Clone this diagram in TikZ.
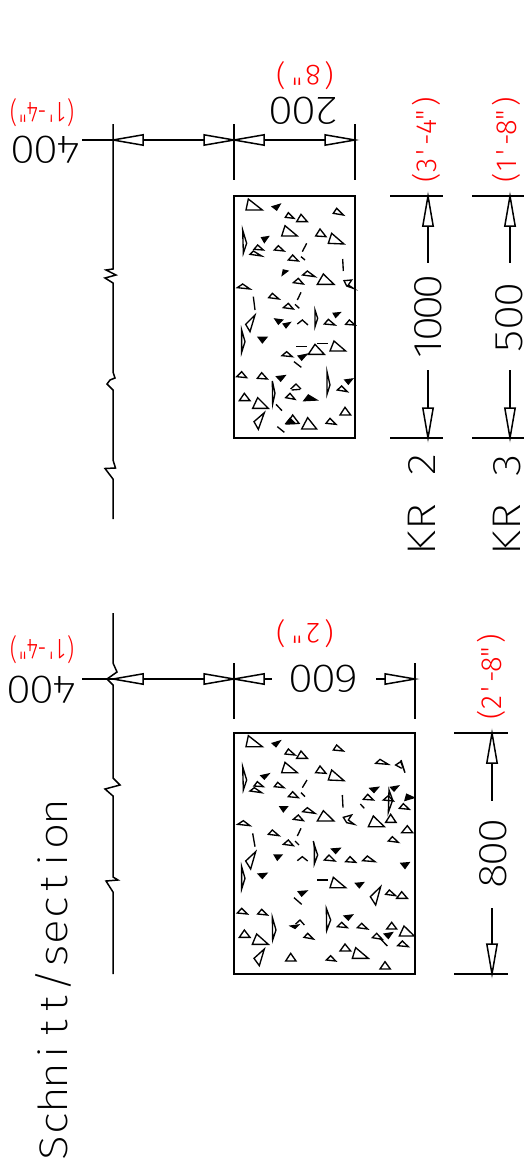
\documentclass[tikz,border=0pt]{standalone}
\usepackage{fontspec}
\setmainfont{Fira Sans}[UprightFont=* ExtraLight]
\newfontfamily\cadbig{Fira Sans ExtraLight}[FakeStretch=1.15]
\newfontfamily\cadred{Fira Sans Light}[FakeStretch=1.0]
\newfontfamily\cadredn{Fira Sans Light}[FakeStretch=0.75]
\newlength\cw
\makeatletter
\def\mono#1#2{\setlength\cw{#1pt}\monoi#2\relax}
\def\monoi#1{\ifx#1\relax\else\makebox[\cw][c]{#1}\expandafter\monoi\fi}
\makeatother
\newcommand\tr[3]{\draw[tri] #1 -- #2 -- #3 -- cycle;}
\newcommand\sol[3]{\draw[tri,fill=black] #1 -- #2 -- #3 -- cycle;}
\newcommand\li[2]{\draw[tri] #1 -- #2;}
\tikzset{
 ln/.style={line width=1.5pt,line join=miter},
 tri/.style={line width=1.35pt,line join=miter},
 big/.style={inner sep=0pt,text height=28pt,text depth=0pt,font=\cadbig\fontsize{40}{40}\selectfont},
 redt/.style={inner sep=0pt,text height=20pt,text depth=0pt,text=red,font=\cadred\fontsize{29}{29}\selectfont},
 redn/.style={inner sep=0pt,text height=20pt,text depth=0pt,text=red,font=\cadredn\fontsize{29}{29}\selectfont},
 openhead/.pic={\draw[ln,fill=white] (0,0) -- (-30,-5.2) -- (-30,5.2) -- cycle;}
}
\begin{document}
\begin{tikzpicture}[x=1pt,y=-1pt]
\useasboundingbox (0,0) rectangle (524,1167);
% ---- coordinates: top section
\coordinate (tA) at (113,140); \coordinate (tB) at (234,140); \coordinate (tC) at (355,140);
\coordinate (tL) at (82,140);
\coordinate (k1) at (428,196); \coordinate (k2) at (428,438);
\coordinate (m1) at (510,196); \coordinate (m2) at (510,438);
% ---- coordinates: bottom section
\coordinate (bA) at (113,679); \coordinate (bB) at (234,679); \coordinate (bC) at (415,679);
\coordinate (bL) at (82,679);
\coordinate (h1) at (492,733); \coordinate (h2) at (492,974);
% rectangles
\node[draw,ln,outer sep=0pt,minimum width=121pt,minimum height=242pt,inner sep=0pt,anchor=north west] (rectT) at (234,196) {};
\node[draw,ln,outer sep=0pt,minimum width=181pt,minimum height=241pt,inner sep=0pt,anchor=north west] (rectB) at (234,733) {};
% extension lines
\draw[ln] (113,124) -- (113,269) -- (106,270) -- (116,275) -- (105,278) -- (113,283)
  -- (113,372) -- (115,378) -- (110,380) -- (107,384) -- (113,390)
  -- (113,460) -- (115.5,468) -- (105,468.5) -- (113,479) -- (113,519);
\draw[ln] (234,124) -- (234,180);
\draw[ln] (355,124) -- (355,180);
\draw[ln] (113,613) -- (113,663) -- (117,672) -- (107,679) -- (113,685)
  -- (113,778) -- (120,785) -- (105,789) -- (113,796)
  -- (113,877) -- (118,880) -- (106,881) -- (113,892) -- (113,974);
\draw[ln] (234,663) -- (234,719);
\draw[ln] (415,663) -- (415,719);
\draw[ln] (390,196) -- (443,196); \draw[ln] (390,438) -- (443,438);
\draw[ln] (472,196) -- (524,196); \draw[ln] (472,438) -- (524,438);
\draw[ln] (454,733) -- (508,733); \draw[ln] (454,974) -- (508,974);
% dimension lines
\draw[ln] (tL) -- (tB);
\draw[ln] (tB) -- (tC);
\draw[ln] (bL) -- (bA) -- (bB) -- ++(38,0);
\draw[ln] (bC) -- ++(-39,0);
\draw[ln] (k1) -- ++(0,67); \draw[ln] (k2) -- ++(0,-68);
\draw[ln] (m1) -- ++(0,67); \draw[ln] (m2) -- ++(0,-68);
\draw[ln] (h1) -- ++(0,68); \draw[ln] (h2) -- ++(0,-66);
% arrow heads
\pic[rotate=180] at (tA) {openhead};
\pic at (tB) {openhead};
\pic[rotate=180] at (tB) {openhead};
\pic at (tC) {openhead};
\pic[rotate=180] at (bA) {openhead};
\pic at (bB) {openhead};
\pic[rotate=180] at (bB) {openhead};
\pic at (bC) {openhead};
\pic[rotate=90] at (k1) {openhead};
\pic[rotate=-90] at (k2) {openhead};
\pic[rotate=90] at (m1) {openhead};
\pic[rotate=-90] at (m2) {openhead};
\pic[rotate=90] at (h1) {openhead};
\pic[rotate=-90] at (h2) {openhead};
% texts
\node[big,rotate=180] (n400a) at (46,150) {\mono{23}{400}};
\node[big,rotate=180] (n200) at (304,111) {\mono{23}{200}};
\node[big,rotate=180] (n400b) at (42,690) {\mono{23}{400}};
\node[big,rotate=180] (n600) at (324,679) {\mono{23}{600}};
\node[big,rotate=90] (n1000) at (427,318) {\mono{21}{1000}};
\node[big,rotate=90] (n500) at (508,318) {\mono{23}{500}};
\node[big,rotate=90] (n800) at (492.5,853.5) {\mono{23}{800}};
\node[big,rotate=90] (kr2) at (421,504) {\mono{26}{KR~2}};
\node[big,rotate=90] (kr3) at (506,504) {\mono{26}{KR~3}};
\node[big,rotate=90] (sec) at (53,980) {\mono{24}{Schnitt/section}};
\node[redn,rotate=180] (r1) at (42,112) {\mono{9.5}{(1'-4")}};
\node[redt,rotate=180] (r2) at (305,75) {\mono{16}{(8")}};
\node[redn,rotate=180] (r3) at (42,649) {\mono{9.5}{(1'-4")}};
\node[redt,rotate=180] (r4) at (305,633) {\mono{16}{(2")}};
\node[redt,rotate=90] (r5) at (426,140) {\mono{12.6}{(3'-4")}};
\node[redt,rotate=90] (r6) at (506,140) {\mono{12.6}{(1'-8")}};
\node[redt,rotate=90] (r7) at (491,677) {\mono{12.6}{(2'-8")}};
% aggregate, top rectangle, upper half
\begin{scope}[shift={(220,185)},scale=1/3]
\tr{(85,42)}{(127,75)}{(78,75)}
\sol{(157,65)}{(180,58)}{(170,75)}
\tr{(205,83)}{(222,100)}{(196,97)}
\tr{(243,88)}{(262,110)}{(230,110)}
\tr{(350,70)}{(370,90)}{(340,85)}
\tr{(195,122)}{(232,153)}{(185,153)}
\tr{(300,132)}{(318,155)}{(287,153)}
\tr{(335,145)}{(372,177)}{(325,175)}
\sol{(125,158)}{(145,155)}{(133,172)}
\tr{(113,180)}{(130,195)}{(102,193)}
\tr{(175,182)}{(192,198)}{(163,195)}
\tr{(100,198)}{(125,213)}{(90,208)}
\tr{(218,210)}{(235,228)}{(205,225)}
\li{(260,175)}{(247,200)}
\li{(243,215)}{(255,225)}
\tr{(68,135)}{(80,175)}{(70,205)}
\li{(368,222)}{(370,258)}
\sol{(190,255)}{(203,258)}{(187,270)}
\tr{(262,258)}{(285,275)}{(248,270)}
\tr{(235,280)}{(250,297)}{(220,293)}
\tr{(310,267)}{(342,298)}{(292,298)}
\draw[tri] (372,287) -- (395,285) -- (385,300) -- (400,310) -- (380,303) -- cycle;
\tr{(68,297)}{(90,312)}{(52,308)}
\li{(100,335)}{(105,375)}
\li{(243,322)}{(232,345)}
\tr{(157,325)}{(177,342)}{(146,338)}
\tr{(205,355)}{(220,372)}{(190,368)}
\li{(225,358)}{(238,370)}
\end{scope}
% aggregate, top rectangle, lower half
\begin{scope}[shift={(220,310)},scale=1/3]
\tr{(285,0)}{(293,25)}{(285,50)}
\sol{(340,10)}{(360,8)}{(347,22)}
\tr{(325,28)}{(345,45)}{(313,42)}
\tr{(388,30)}{(405,45)}{(377,43)}
\tr{(105,15)}{(90,65)}{(77,43)}
\sol{(165,27)}{(187,30)}{(175,42)}
\sol{(190,42)}{(210,38)}{(198,53)}
\draw[tri] (232,42) -- (247,30) -- (264,45);
\tr{(65,60)}{(75,95)}{(65,127)}
\sol{(115,82)}{(140,82)}{(127,98)}
\li{(228,110)}{(260,110)}
\tr{(285,103)}{(313,133)}{(265,133)}
\li{(292,101)}{(325,101)}
\tr{(342,93)}{(377,123)}{(330,123)}
\tr{(200,125)}{(217,140)}{(186,137)}
\sol{(235,138)}{(260,133)}{(245,150)}
\li{(222,155)}{(244,172)}
\tr{(65,185)}{(80,203)}{(50,200)}
\tr{(125,188)}{(142,207)}{(112,205)}
\sol{(170,200)}{(195,197)}{(182,213)}
\tr{(157,213)}{(165,250)}{(158,282)}
\tr{(321,185)}{(330,225)}{(321,253)}
\sol{(375,210)}{(397,207)}{(385,222)}
\tr{(365,228)}{(382,245)}{(352,240)}
\draw[tri] (212,237) -- (228,222) -- (243,237);
\li{(215,240)}{(240,238)}
\tr{(210,250)}{(225,268)}{(197,263)}
\sol{(265,255)}{(290,270)}{(252,272)}
\tr{(73,250)}{(90,272)}{(58,272)}
\tr{(113,263)}{(145,295)}{(98,295)}
\li{(168,283)}{(186,302)}
\tr{(133,308)}{(115,358)}{(102,335)}
\tr{(218,315)}{(237,340)}{(200,342)}
\sol{(210,325)}{(225,340)}{(198,340)}
\tr{(263,323)}{(290,357)}{(245,357)}
\tr{(330,325)}{(348,343)}{(318,340)}
\tr{(375,292)}{(392,315)}{(360,315)}
\li{(172,350)}{(193,367)}
\end{scope}
% aggregate, bottom rectangle, upper half
\begin{scope}[shift={(225,725)},scale=1/3]
\tr{(70,32)}{(112,65)}{(63,65)}
\sol{(142,55)}{(165,48)}{(153,65)}
\tr{(190,72)}{(210,90)}{(180,87)}
\tr{(228,78)}{(247,100)}{(215,100)}
\tr{(335,60)}{(355,78)}{(325,75)}
\tr{(180,112)}{(217,143)}{(170,143)}
\tr{(285,123)}{(303,145)}{(272,143)}
\tr{(320,135)}{(357,167)}{(310,165)}
\sol{(108,152)}{(131,147)}{(118,162)}
\tr{(97,170)}{(115,185)}{(87,183)}
\tr{(158,172)}{(177,188)}{(148,185)}
\tr{(88,188)}{(110,203)}{(75,198)}
\tr{(203,200)}{(220,218)}{(190,215)}
\li{(246,165)}{(232,188)}
\li{(228,203)}{(240,215)}
\tr{(53,125)}{(65,165)}{(55,195)}
\li{(352,210)}{(354,248)}
\sol{(165,245)}{(187,245)}{(175,260)}
\tr{(247,248)}{(270,265)}{(233,260)}
\tr{(220,270)}{(235,287)}{(205,283)}
\tr{(295,257)}{(327,288)}{(277,288)}
\draw[tri] (355,277) -- (380,270) -- (370,285) -- (388,298) -- (365,293) -- cycle;
\tr{(55,287)}{(75,302)}{(38,298)}
\li{(83,325)}{(90,365)}
\li{(228,310)}{(217,333)}
\tr{(142,315)}{(162,332)}{(130,328)}
\tr{(190,345)}{(205,362)}{(175,358)}
\li{(210,348)}{(222,360)}
\li{(265,348)}{(270,375)}
\tr{(465,103)}{(490,118)}{(452,115)}
\draw[tri] (528,105) -- (540,143) -- (527,110) -- (512,120) -- (530,130);
\sol{(435,190)}{(460,187)}{(447,202)}
\tr{(428,208)}{(445,225)}{(415,223)}
\sol{(497,187)}{(520,183)}{(507,198)}
\li{(406,237)}{(418,250)}
\tr{(492,195)}{(503,225)}{(490,262)}
\tr{(490,212)}{(505,228)}{(475,225)}
\sol{(545,208)}{(567,218)}{(540,226)}
\tr{(535,236)}{(553,253)}{(523,250)}
\tr{(445,273)}{(478,305)}{(430,305)}
\tr{(497,268)}{(513,292)}{(482,292)}
\tr{(547,302)}{(563,323)}{(530,323)}
\tr{(502,335)}{(520,352)}{(490,348)}
\end{scope}
% aggregate, bottom rectangle, lower half
\begin{scope}[shift={(225,845)},scale=1/3]
\tr{(268,0)}{(278,30)}{(268,57)}
\sol{(320,12)}{(345,10)}{(332,25)}
\tr{(312,30)}{(330,48)}{(298,45)}
\tr{(375,35)}{(392,52)}{(362,50)}
\tr{(427,33)}{(450,50)}{(413,47)}
\sol{(528,55)}{(552,53)}{(540,70)}
\tr{(92,20)}{(77,72)}{(62,48)}
\sol{(148,30)}{(170,30)}{(157,45)}
\draw[tri] (217,47) -- (232,35) -- (248,48);
\tr{(50,65)}{(60,100)}{(50,132)}
\sol{(100,87)}{(125,85)}{(112,100)}
\li{(277,105)}{(308,105)}
\tr{(325,97)}{(362,128)}{(315,128)}
\sol{(392,115)}{(415,113)}{(403,128)}
\sol{(220,140)}{(245,138)}{(230,153)}
\li{(207,158)}{(230,178)}
\tr{(467,125)}{(452,180)}{(436,155)}
\tr{(493,135)}{(512,152)}{(482,148)}
\tr{(530,140)}{(547,160)}{(515,160)}
\tr{(50,190)}{(67,207)}{(37,204)}
\tr{(110,193)}{(127,210)}{(98,207)}
\tr{(142,217)}{(153,255)}{(143,285)}
\tr{(304,190)}{(317,225)}{(305,257)}
\sol{(358,213)}{(382,210)}{(370,225)}
\tr{(350,232)}{(367,248)}{(337,245)}
\tr{(410,235)}{(428,252)}{(397,248)}
\tr{(500,232)}{(515,252)}{(485,252)}
\draw[tri] (212,237) -- (225,225) -- (238,240);
\sol{(197,243)}{(220,240)}{(210,250)}
\tr{(248,265)}{(265,282)}{(237,277)}
\tr{(455,265)}{(472,283)}{(442,278)}
\sol{(478,267)}{(502,263)}{(490,280)}
\li{(465,280)}{(487,303)}
\tr{(537,243)}{(568,273)}{(523,273)}
\tr{(58,255)}{(75,277)}{(43,277)}
\tr{(95,267)}{(130,298)}{(82,298)}
\tr{(532,288)}{(550,305)}{(518,302)}
\tr{(118,312)}{(103,362)}{(87,340)}
\tr{(197,325)}{(213,348)}{(182,348)}
\tr{(317,332)}{(332,348)}{(304,345)}
\tr{(360,297)}{(377,318)}{(345,318)}
\tr{(392,308)}{(430,340)}{(382,340)}
\tr{(480,350)}{(496,372)}{(465,372)}
\end{scope}
\end{tikzpicture}
\end{document}
